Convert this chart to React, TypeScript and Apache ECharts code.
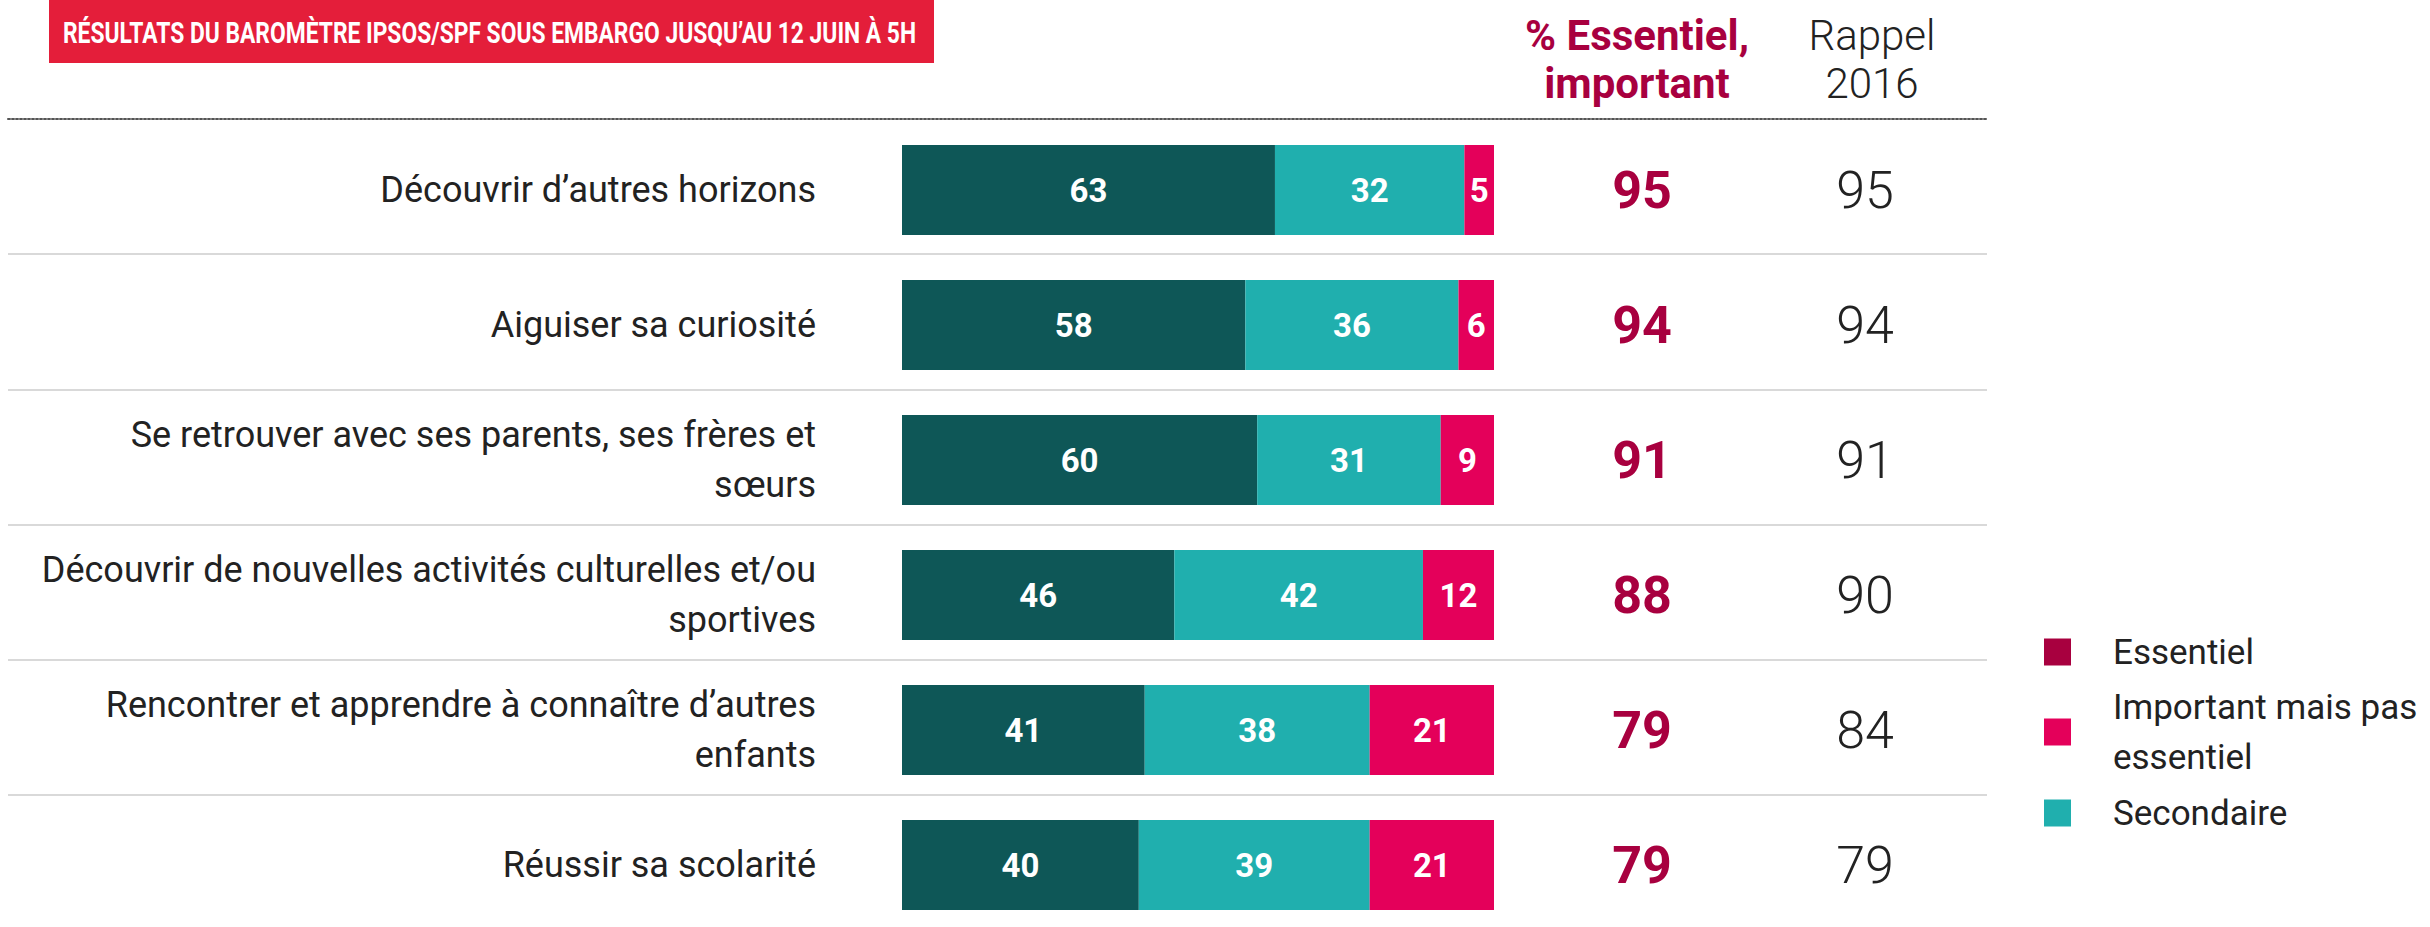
import React, { useEffect, useRef } from "react";
import * as echarts from "echarts";

const categories = [
  "Découvrir d’autres horizons",
  "Aiguiser sa curiosité",
  "Se retrouver avec ses parents, ses frères et\nsœurs",
  "Découvrir de nouvelles activités culturelles et/ou\nsportives",
  "Rencontrer et apprendre à connaître d’autres\nenfants",
  "Réussir sa scolarité",
];
const essentiel = [63, 58, 60, 46, 41, 40];
const important = [32, 36, 31, 42, 38, 39];
const secondaire = [5, 6, 9, 12, 21, 21];
const totalEssentielImportant = [95, 94, 91, 88, 79, 79];
const rappel2016 = [95, 94, 91, 90, 84, 79];

const seriesNames = ["Essentiel", "Important mais pas essentiel", "Secondaire"];
const barColors = ["#0E5757", "#20AFAE", "#E4005A"];
const legendColors = ["#A8003F", "#E4005A", "#20AFAE"];
const bannerText = "RÉSULTATS DU BAROMÈTRE IPSOS/SPF SOUS EMBARGO JUSQU’AU 12 JUIN À 5H";
const headerTotal = "% Essentiel,\nimportant";
const headerRappel = "Rappel\n2016";

const FONT = "Roboto";

export default function App() {
  const ref = useRef<HTMLDivElement>(null);
  useEffect(() => {
    if (!ref.current) return;
    document.documentElement.style.overflow = "hidden";
    document.body.style.overflow = "hidden";
    const chart = echarts.init(ref.current, undefined, { renderer: "svg" });

    const ctx = document.createElement("canvas").getContext("2d");
    let bannerScale = 0.75;
    if (ctx) {
      ctx.font = `bold 30px ${FONT}`;
      const w = ctx.measureText(bannerText).width;
      if (w > 0) bannerScale = 854 / w;
    }

    const barLabel = {
      show: true,
      position: "inside",
      color: "#fff",
      fontSize: 33,
      fontWeight: "bold",
      fontFamily: FONT,
    };
    const values = [essentiel, important, secondaire];

    const legendTops = [627, 682, 788];

    // first (under the dotted rule) and last (below the page) separators hidden
    const separatorColors = ["rgba(0,0,0,0)"]
      .concat(categories.slice(1).map(() => "#d9d9d9"))
      .concat(["rgba(0,0,0,0)"]);

    const option: any = {
      animation: false,
      textStyle: { fontFamily: FONT },
      grid: [
        { left: 902, width: 592, top: 122.5, height: 810 },
        { left: 8, width: 1979, top: 119, height: 811.2 },
      ],
      xAxis: [
        { gridIndex: 0, type: "value", min: 0, max: 100, show: false },
        {
          gridIndex: 1,
          type: "value",
          min: 0,
          max: 1,
          position: "top",
          z: 5,
          axisLine: { show: true, onZero: false, lineStyle: { color: "#555", width: 2, type: [2, 2] } },
          axisTick: { show: false },
          axisLabel: { show: false },
          splitLine: { show: false },
        },
      ],
      yAxis: [
        {
          gridIndex: 0,
          type: "category",
          data: categories,
          inverse: true,
          axisLine: { show: false },
          axisTick: { show: false },
          splitLine: { show: false },
          axisLabel: { margin: 86, fontSize: 36, color: "#222", lineHeight: 50, fontFamily: FONT },
        },
        {
          gridIndex: 0,
          type: "category",
          position: "right",
          data: totalEssentielImportant.map(String),
          inverse: true,
          axisLine: { show: false },
          axisTick: { show: false },
          splitLine: { show: false },
          axisLabel: { margin: 148, align: "center", fontSize: 52, fontWeight: "bold", color: "#A8003F", fontFamily: FONT },
        },
        {
          gridIndex: 0,
          type: "category",
          position: "right",
          data: rappel2016.map(String),
          inverse: true,
          axisLine: { show: false },
          axisTick: { show: false },
          splitLine: { show: false },
          axisLabel: { margin: 371, align: "center", fontSize: 52, fontWeight: 300, color: "#222", fontFamily: FONT },
        },
        {
          gridIndex: 1,
          type: "category",
          data: categories,
          inverse: true,
          axisLine: { show: false },
          axisTick: { show: false },
          axisLabel: { show: false },
          splitLine: {
            show: true,
            interval: 0,
            lineStyle: { color: separatorColors, width: 2 },
          },
        },
      ],
      legend: seriesNames.map((n, i) => ({
        data: [{ name: n, icon: "rect", itemStyle: { color: legendColors[i] } }],
        orient: "vertical",
        left: 2044,
        top: legendTops[i],
        padding: 0,
        itemWidth: 27,
        itemHeight: 27,
        selectedMode: false,
        formatter: (name: string) =>
          name === "Important mais pas essentiel" ? "Important mais pas\nessentiel" : name,
        textStyle: {
          fontSize: 35,
          lineHeight: 50,
          color: "#222",
          fontFamily: FONT,
          padding: [0, 0, 0, 37],
        },
      })),
      series: seriesNames.map((n, i) => ({
        name: n,
        type: "bar",
        stack: "total",
        xAxisIndex: 0,
        yAxisIndex: 0,
        barWidth: 90,
        data: values[i],
        itemStyle: { color: barColors[i] },
        label: barLabel,
        emphasis: { disabled: true },
      })),
      graphic: [
        {
          type: "rect",
          shape: { x: 49, y: 0, width: 885, height: 63 },
          style: { fill: "#E41E3A" },
          silent: true,
        },
        {
          type: "text",
          x: 63,
          y: 33,
          scaleX: bannerScale,
          style: {
            text: bannerText,
            fill: "#fff",
            fontSize: 30,
            fontWeight: "bold",
            fontFamily: FONT,
            align: "left",
            verticalAlign: "middle",
          },
          silent: true,
        },
        {
          type: "text",
          x: 1637,
          y: 59,
          style: {
            text: headerTotal,
            fill: "#A8003F",
            fontSize: 42,
            fontWeight: "bold",
            fontFamily: FONT,
            lineHeight: 48,
            align: "center",
            verticalAlign: "middle",
          },
          silent: true,
        },
        {
          type: "text",
          x: 1872,
          y: 59,
          style: {
            text: headerRappel,
            fill: "#222",
            fontSize: 42,
            fontWeight: 300,
            fontFamily: FONT,
            lineHeight: 48,
            align: "center",
            verticalAlign: "middle",
          },
          silent: true,
        },
      ],
    };
    chart.setOption(option);
    return () => chart.dispose();
  }, []);

  return (
    <div
      ref={ref}
      style={{ position: "absolute", left: 0, top: 0, width: 2430, height: 950, background: "#fff" }}
    />
  );
}
